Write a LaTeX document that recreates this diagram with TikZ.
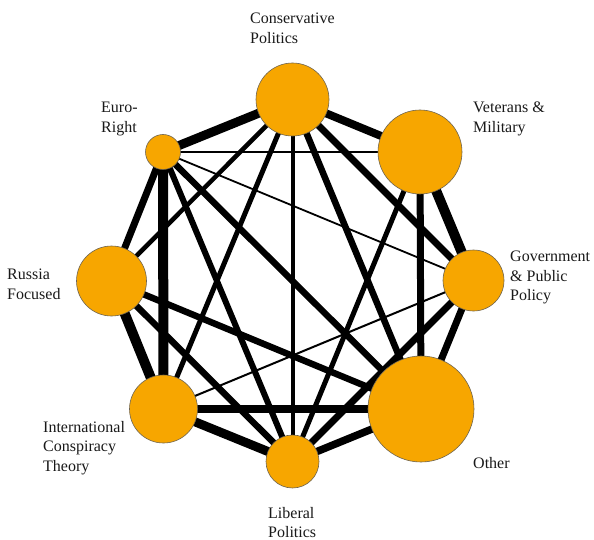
\documentclass[tikz,border=0pt]{standalone}
\usepackage{fontspec}
\setmainfont{Liberation Serif}
\newfontfamily\lblfont{Liberation Serif}
\pgfdeclarelayer{background}
\pgfsetlayers{background,main}
\definecolor{nodeorange}{RGB}{247,166,0}
\definecolor{rimgray}{RGB}{110,100,80}
\tikzset{
  topic/.style={circle, fill=nodeorange, draw=rimgray, line width=0.6pt, inner sep=0pt, minimum size=#1},
  tie/.style={line width=#1, black},
  lbl/.style={anchor=north west, inner sep=0pt, align=left, font=\lblfont\fontsize{16}{19.5}\selectfont, text=black!90}
}
\begin{document}
\begin{tikzpicture}[x=1pt,y=-1pt]
\useasboundingbox (0,0) rectangle (594,540);
% topic circles
\node[topic=73pt] (C) at (292.5,99.5) {};
\node[topic=84pt] (V) at (420,152) {};
\node[topic=61pt] (G) at (473.5,280.5) {};
\node[topic=106pt] (O) at (421,409) {};
\node[topic=53pt] (L) at (292.5,461.5) {};
\node[topic=68pt] (I) at (163.5,409) {};
\node[topic=70pt] (R) at (111.5,281) {};
\node[topic=35pt] (E) at (163,152) {};
% connectors
\begin{pgfonlayer}{background}
\fill[white] (0,0) rectangle (594,540);
\draw[tie=9pt] (E.center) -- (C.center);
\draw[tie=2.5pt] (E.center) -- (V.center);
\draw[tie=1.8pt] (E.center) -- (G.center);
\draw[tie=6.5pt] (E.center) -- (O.center);
\draw[tie=6pt] (E.center) -- (L.center);
\draw[tie=10pt] (E.center) -- (I.center);
\draw[tie=7pt] (E.center) -- (R.center);
\draw[tie=8pt] (C.center) -- (V.center);
\draw[tie=4pt] (C.center) -- (L.center);
\draw[tie=7pt] (C.center) -- (G.center);
\draw[tie=6.5pt] (C.center) -- (O.center);
\draw[tie=4.5pt] (C.center) -- (R.center);
\draw[tie=5pt] (C.center) -- (I.center);
\draw[tie=10pt] (V.center) -- (G.center);
\draw[tie=7pt] (V.center) -- (O.center);
\draw[tie=5pt] (V.center) -- (L.center);
\draw[tie=7pt] (G.center) -- (O.center);
\draw[tie=7pt] (G.center) -- (L.center);
\draw[tie=2pt] (G.center) -- (I.center);
\draw[tie=7.5pt] (O.center) -- (L.center);
\draw[tie=7.5pt] (O.center) -- (I.center);
\draw[tie=6.5pt] (O.center) -- (R.center);
\draw[tie=9pt] (L.center) -- (I.center);
\draw[tie=6.5pt] (L.center) -- (R.center);
\draw[tie=10pt] (I.center) -- (R.center);
\end{pgfonlayer}
% labels
\node[lbl] (tC) at (250,13) {Conservative\\Politics};
\node[lbl] (tV) at (473,102) {Veterans \&\\Military};
\node[lbl] (tG) at (510,251) {Government\\\& Public\\Policy};
\node[lbl] (tO) at (473,457) {Other};
\node[lbl] (tL) at (268,507) {Liberal\\Politics};
\node[lbl] (tI) at (43,421) {International\\Conspiracy\\Theory};
\node[lbl] (tR) at (7,269) {Russia\\Focused};
\node[lbl] (tE) at (101,102) {Euro-\\Right};
\end{tikzpicture}
\end{document}
